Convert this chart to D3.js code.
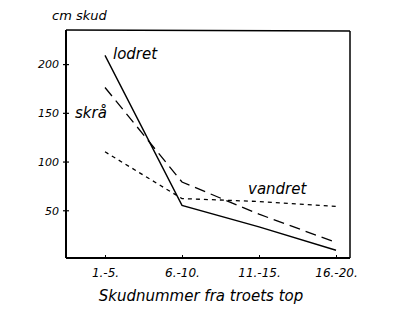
<!DOCTYPE html>
<html><head><meta charset="utf-8">
<script src="https://cdn.jsdelivr.net/npm/d3@7"></script>
<style>
html,body{margin:0;padding:0;background:#fff;}
text{font-family:"DejaVu Sans",sans-serif;font-style:italic;fill:#000;}
</style></head>
<body><div id="chart"></div>
<script>
const categories = ["1.-5.", "6.-10.", "11.-15.", "16.-20."];
const lodret = [209, 55, 33, 9];
const skraa = [176, 79, 46, 17];
const vandret = [110, 62, 59, 54];
const yTicks = [50, 100, 150, 200];
const seriesNames = ["lodret", "skrå", "vandret"];

(function () {
const W = 394, H = 311;
const svg = d3.select("#chart").append("svg").attr("width", W).attr("height", H);

const pL = 66, pR = 350, pT = 30, pB = 258;
const x = d3.scalePoint().domain(categories).range([105, 336]);
const y = d3.scaleLinear().domain([0, 235]).range([pB + 1, pT]);

// frame
svg.append("line").attr("x1", pL).attr("x2", pR).attr("y1", pT).attr("y2", pT + 1)
  .attr("stroke", "#000").attr("stroke-width", 1.5);
svg.append("line").attr("x1", pR).attr("x2", pR).attr("y1", pT + 1).attr("y2", pB)
  .attr("stroke", "#000").attr("stroke-width", 1.5);

// y axis
const yAxis = d3.axisLeft(y).tickValues(yTicks).tickSize(3).tickPadding(4);
const gy = svg.append("g").attr("transform", `translate(${pL},0)`).call(yAxis);
gy.select(".domain").attr("d", `M0,${pT}V${pB}`).attr("stroke-width", 2);
gy.selectAll(".tick line").attr("x2", 3).attr("x1", -3).attr("stroke-width", 1.2);
gy.selectAll(".tick text").style("font-size", "11px").style("font-family", "DejaVu Sans")
  .style("font-style", "italic").attr("dy", "0.35em");

// x axis
const xAxis = d3.axisBottom(x).tickSize(2).tickPadding(8);
const gx = svg.append("g").attr("transform", `translate(0,${pB})`).call(xAxis);
gx.select(".domain").attr("d", `M${pL},0H${pR}`).attr("stroke-width", 2);
gx.selectAll(".tick line").attr("y1", -3).attr("y2", 0);
gx.selectAll(".tick text").style("font-size", "12px").style("font-family", "DejaVu Sans")
  .style("font-style", "italic");

const line = d3.line().x((d, i) => x(categories[i])).y(d => y(d));
svg.append("path").datum(lodret).attr("d", line).attr("fill", "none")
  .attr("stroke", "#000").attr("stroke-width", 1.4);
svg.append("path").datum(skraa).attr("d", line).attr("fill", "none")
  .attr("stroke", "#000").attr("stroke-width", 1.3).attr("stroke-dasharray", "11,6");
svg.append("path").datum(vandret).attr("d", line).attr("fill", "none")
  .attr("stroke", "#000").attr("stroke-width", 1.3).attr("stroke-dasharray", "4,4");

// series labels
svg.append("text").attr("x", 113).attr("y", 59).style("font-size", "15px").text(seriesNames[0]);
svg.append("text").attr("x", 75).attr("y", 118).style("font-size", "15px").text(seriesNames[1]);
svg.append("text").attr("x", 248).attr("y", 194).style("font-size", "15px").text(seriesNames[2]);

// axis titles
svg.append("text").attr("x", 52).attr("y", 20).style("font-size", "13px").text("cm skud");
svg.append("text").attr("x", 201).attr("y", 301).attr("text-anchor", "middle")
  .style("font-size", "15px").text("Skudnummer fra troets top");
})();
</script></body></html>
